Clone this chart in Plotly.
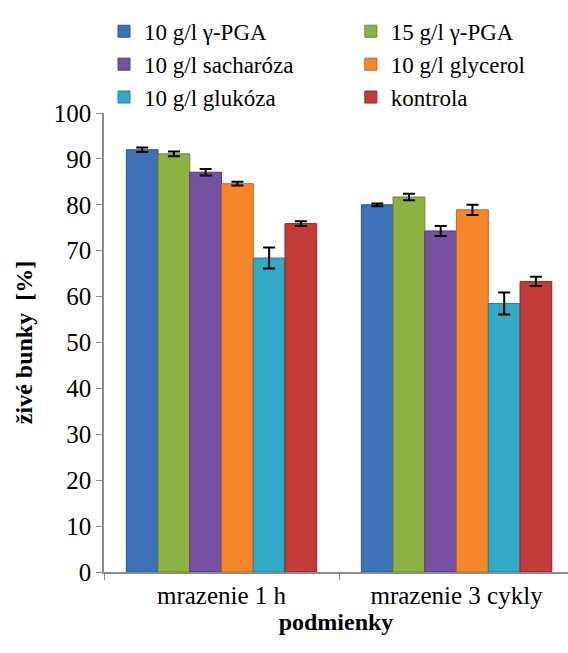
import plotly.graph_objects as go

# Conditions on the x axis
conditions = ["mrazenie 1 h", "mrazenie 3 cykly"]

# Series (cryoprotectant) names, colours and measured viability [%]
series_names = ["10 g/l γ-PGA", "15 g/l γ-PGA", "10 g/l sacharóza",
                "10 g/l glycerol", "10 g/l glukóza", "kontrola"]
series_colors = ["#3D72B6", "#8DB142", "#7451A1", "#F5872A", "#33A9C6", "#C13B38"]
series_edges = ["#2A5488", "#6A8A30", "#553A7A", "#C0641A", "#23819A", "#8E2826"]

val_pga10 = [92.0, 80.0]
val_pga15 = [91.1, 81.7]
val_sach = [87.1, 74.3]
val_glyc = [84.6, 78.9]
val_gluk = [68.4, 58.5]
val_kontr = [75.9, 63.3]

err_pga10 = [0.5, 0.3]
err_pga15 = [0.5, 0.7]
err_sach = [0.7, 1.1]
err_glyc = [0.4, 1.1]
err_gluk = [2.3, 2.4]
err_kontr = [0.5, 1.0]

values = [val_pga10, val_pga15, val_sach, val_glyc, val_gluk, val_kontr]
errors = [err_pga10, err_pga15, err_sach, err_glyc, err_gluk, err_kontr]

FONT = "Times New Roman, Liberation Serif, serif"

fig = go.Figure()
for i, (name, col, edge, v, e) in enumerate(zip(series_names, series_colors, series_edges, values, errors)):
    fig.add_trace(go.Bar(
        x=conditions, y=v, name=name,
        legend="legend" if i % 2 == 0 else "legend2",
        marker=dict(color=col, line=dict(color=edge, width=1)),
        error_y=dict(type="data", array=e, visible=True,
                     color="black", thickness=2, width=6),
    ))

# two legend columns
legend_style = dict(
    xanchor="left", yref="container", y=0.985, yanchor="top",
    font=dict(family=FONT, size=23, color="black"),
    itemwidth=30,
)

fig.update_layout(
    width=568, height=653,
    margin=dict(l=104, r=0, t=113, b=81, autoexpand=False),
    paper_bgcolor="white", plot_bgcolor="white",
    barmode="group", bargap=0.19, bargroupgap=0,
    font=dict(family=FONT, size=25, color="black"),
    showlegend=True,
    legend=dict(x=0.0, **legend_style),
    legend2=dict(x=0.532, **legend_style),
    xaxis=dict(
        range=[-0.5, 1.474],
        showline=True, linecolor="#8C8C8C", linewidth=1.5,
        ticks="outside", tickson="boundaries", ticklen=6, tickcolor="#8C8C8C",
        showgrid=False,
        tickfont=dict(family=FONT, size=25, color="black"),
        title=dict(text="<b>podmienky</b>", font=dict(family=FONT, size=24, color="black"), standoff=4),
    ),
    yaxis=dict(
        range=[0, 100], dtick=10,
        showline=True, linecolor="#8C8C8C", linewidth=1.5,
        ticks="outside", ticklen=6, tickcolor="#8C8C8C",
        showgrid=False, zeroline=False,
        tickfont=dict(family=FONT, size=25, color="black"),
        title=dict(text="<b>živé bunky \u00a0[%]</b>", font=dict(family=FONT, size=24, color="black"), standoff=14),
    ),
)

fig.write_html("out.html")
